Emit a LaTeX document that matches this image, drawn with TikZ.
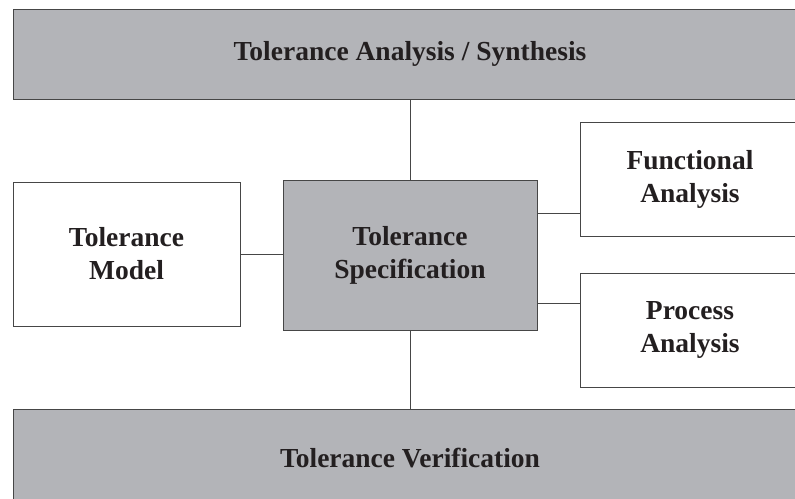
\documentclass[tikz,border=0pt]{standalone}
\usepackage{fontspec}
\setmainfont{Liberation Serif}
\definecolor{boxgray}{RGB}{179,180,184}
\definecolor{edgegray}{RGB}{70,70,70}
\definecolor{textdark}{RGB}{35,31,32}
\tikzset{
  block/.style={draw=edgegray, line width=1pt, text=textdark, align=center,
    font=\fontsize{27.5}{33}\selectfont\bfseries, inner sep=0pt},
  shaded/.style={block, fill=boxgray},
  plain/.style={block, fill=white},
  link/.style={draw=edgegray, line width=1pt}
}
\begin{document}
\begin{tikzpicture}[x=1pt,y=-1pt]
        \useasboundingbox (0,0) rectangle (795,498);
        \clip (0,0) rectangle (795,498);

        % Bars at top and bottom
        \node[shaded, minimum width=794, minimum height=90] (synth) at (410,54) {Tolerance Analysis / Synthesis};
        \node[shaded, minimum width=794, minimum height=98] (verif) at (410,458) {Tolerance Verification};

        % Middle row
        \node[plain, minimum width=227, minimum height=144] (model) at (126.5,254) {Tolerance\\Model};
        \node[shaded, minimum width=254, minimum height=150] (spec) at (410,255) {Tolerance\\Specification};
        \node[plain, minimum width=220, minimum height=114] (func) at (690,179) {Functional\\Analysis};
        \node[plain, minimum width=220, minimum height=114] (proc) at (690,330) {Process\\Analysis};

        % Connections
        \draw[link] (spec.north) -- (synth.south);
        \draw[link] (spec.south) -- (verif.north);
        \draw[link] (model.east) -- (model.east -| spec.west);
        \coordinate (funcin) at ([yshift=-34pt]func.west);
        \coordinate (procin) at ([yshift=27pt]proc.west);
        \draw[link] (funcin) -- (funcin -| spec.east);
        \draw[link] (procin) -- (procin -| spec.east);
    \end{tikzpicture}
\end{document}
